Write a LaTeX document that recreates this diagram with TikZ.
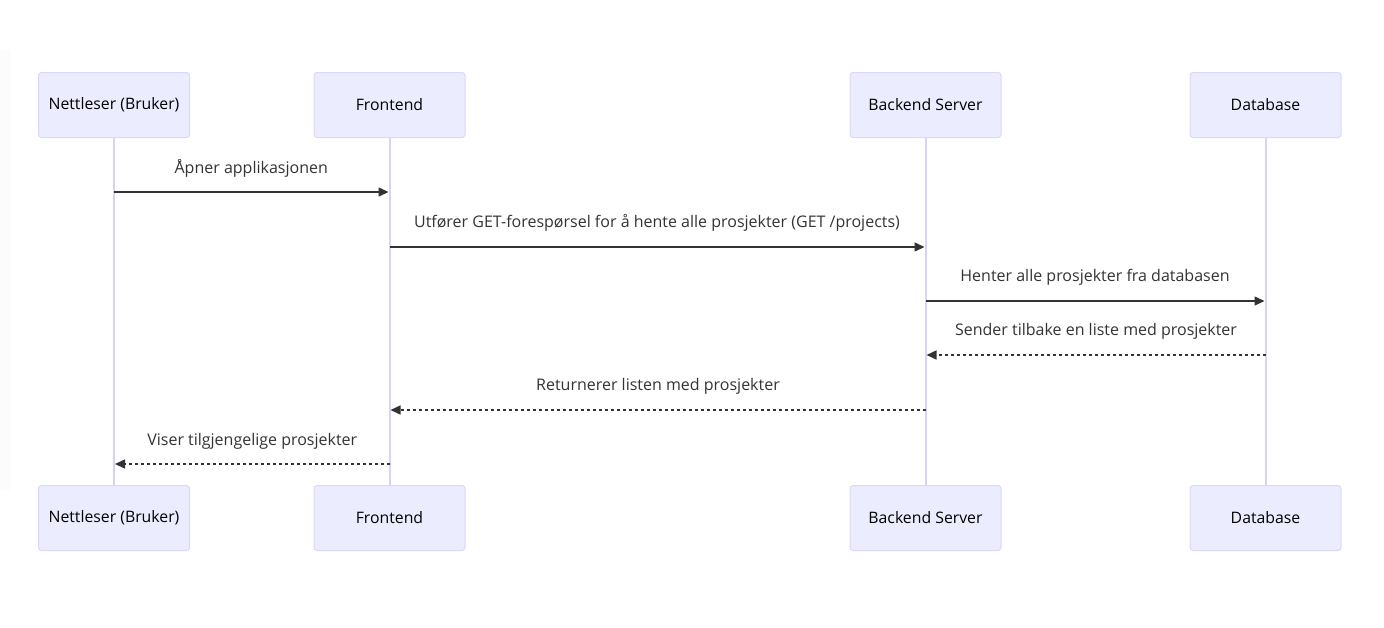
\documentclass[tikz,border=0pt]{standalone}
\usepackage{fontspec}
\setmainfont{Open Sans}
\usetikzlibrary{arrows.meta}
\definecolor{actfill}{HTML}{ECECFF}
\definecolor{actborder}{HTML}{DDD6F8}
\definecolor{lifecol}{HTML}{DAD2F4}
\definecolor{msgcol}{HTML}{333333}
\tikzset{
  actor/.style={draw=actborder, fill=actfill, line width=1pt, rounded corners=3pt,
    minimum width=151pt, minimum height=65pt, inner sep=0pt,
    font=\fontsize{15.8}{18}\selectfont, text=black},
  lifeline/.style={draw=lifecol, line width=2pt},
  msg/.style={draw=msgcol, line width=1.5pt, -{Triangle[length=10pt,width=9pt]}},
  reply/.style={msg, dash pattern=on 3pt off 3pt},
  lbl/.style={font=\fontsize{16}{18}\selectfont, text=msgcol, inner sep=0pt}
}
\begin{document}
\begin{tikzpicture}[x=1pt,y=-1pt]
\useasboundingbox (0,0) rectangle (1384,627);
\fill[black!1.2] (0,50) rectangle (11,490);
% top actors
\node[actor] (at) at (114,105) {Nettleser (Bruker)};
\node[actor] (ft) at (389.5,105) {Frontend};
\node[actor] (bt) at (925.5,105) {Backend Server};
\node[actor] (dt) at (1265.5,105) {Database};
% bottom actors
\node[actor] (ab) at (114,518) {Nettleser (Bruker)};
\node[actor] (fb) at (389.5,518) {Frontend};
\node[actor] (bb) at (925.5,518) {Backend Server};
\node[actor] (db) at (1265.5,518) {Database};
% lifelines
\draw[lifeline] (at.south) -- (ab.north);
\draw[lifeline] (ft.south) -- (fb.north);
\draw[lifeline] (bt.south) -- (bb.north);
\draw[lifeline] (dt.south) -- (db.north);
% message anchor points
\coordinate (a1) at (at.south |- 0,192);
\coordinate (f1) at (ft.south |- 0,192);
\coordinate (f2) at (ft.south |- 0,247);
\coordinate (b2) at (bt.south |- 0,247);
\coordinate (b3) at (bt.south |- 0,301);
\coordinate (d3) at (dt.south |- 0,301);
\coordinate (d4) at (dt.south |- 0,355);
\coordinate (b4) at (bt.south |- 0,355);
\coordinate (b5) at (bt.south |- 0,410);
\coordinate (f5) at (ft.south |- 0,410);
\coordinate (f6) at (ft.south |- 0,464);
\coordinate (a6) at (at.south |- 0,464);
% messages
\draw[msg] (a1) -- ([xshift=-1pt]f1) node[lbl, midway, yshift=24pt] (m1) {Åpner applikasjonen};
\draw[msg] (f2) -- ([xshift=-1pt]b2) node[lbl, midway, yshift=24pt] (m2) {Utfører GET-forespørsel for å hente alle prosjekter (GET /projects)};
\draw[msg] (b3) -- ([xshift=-1pt]d3) node[lbl, midway, yshift=24pt] (m3) {Henter alle prosjekter fra databasen};
\draw[reply] (d4) -- ([xshift=1pt]b4) node[lbl, midway, yshift=24pt] (m4) {Sender tilbake en liste med prosjekter};
\draw[reply] (b5) -- ([xshift=1pt]f5) node[lbl, midway, yshift=24pt] (m5) {Returnerer listen med prosjekter};
\draw[reply] (f6) -- ([xshift=1pt]a6) node[lbl, midway, yshift=23pt] (m6) {Viser tilgjengelige prosjekter};
\end{tikzpicture}
\end{document}
